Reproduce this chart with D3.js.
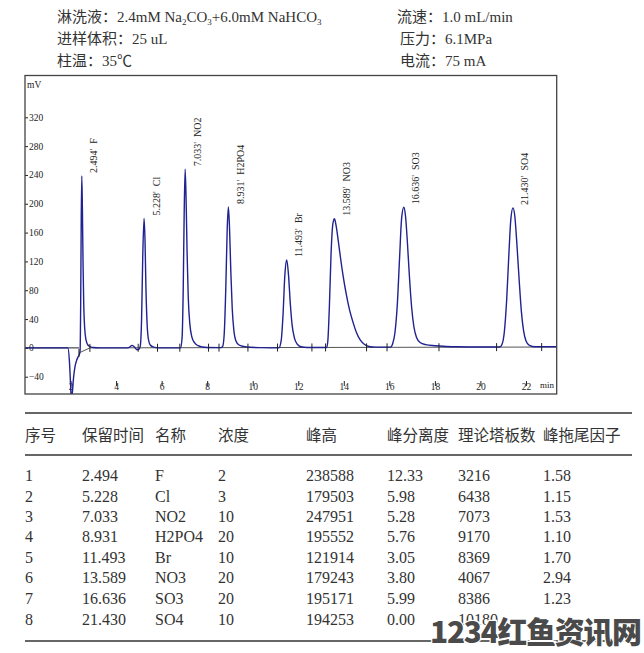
<!DOCTYPE html>
<html><head><meta charset="utf-8">
<script src="https://cdn.jsdelivr.net/npm/d3@7"></script>
<style>
html,body{margin:0;padding:0;background:#fff;}
svg{display:block;}
</style></head>
<body>
<svg id="c" width="644" height="653"></svg>
<script>
// ---------- data ----------
const seqNo = [1, 2, 3, 4, 5, 6, 7, 8];
const retentionTimes = ["2.494", "5.228", "7.033", "8.931", "11.493", "13.589", "16.636", "21.430"];
const peakNames = ["F", "Cl", "NO2", "H2PO4", "Br", "NO3", "SO3", "SO4"];
const concentrations = [2, 3, 10, 20, 10, 20, 20, 10];
const peakHeights = [238588, 179503, 247951, 195552, 121914, 179243, 195171, 194253];
const resolutions = ["12.33", "5.98", "5.28", "5.76", "3.05", "3.80", "5.99", "0.00"];
const plateNumbers = ["3216", "6438", "7073", "9170", "8369", "4067", "8386", "10180"];
const tailingFactors = ["1.58", "1.15", "1.53", "1.10", "1.70", "2.94", "1.23", ""];
const tableHeaders = ["序号", "保留时间", "名称", "浓度", "峰高", "峰分离度", "理论塔板数", "峰拖尾因子"];

const yTicks = [-40, 0, 40, 80, 120, 160, 200, 240, 280, 320];
const xTicks = [2, 4, 6, 8, 10, 12, 14, 16, 18, 20, 22];

// chromatogram trace (min, mV)
const traceTimes = [0, 1.88, 1.95, 2.0, 2.04, 2.08, 2.13, 2.19, 2.26, 2.33, 2.39, 2.42, 2.445, 2.47, 2.494, 2.52, 2.55, 2.58, 2.62, 2.68, 2.76, 2.88, 3.0, 3.3,
  4.5, 4.6, 4.7, 4.8, 4.92, 5.0, 5.06, 5.12, 5.17, 5.228, 5.27, 5.31, 5.36, 5.42, 5.5, 5.65, 5.85,
  6.83, 6.9, 6.95, 6.99, 7.033, 7.075, 7.12, 7.17, 7.24, 7.33, 7.45, 7.6, 7.8, 8.0,
  8.6, 8.68, 8.75, 8.82, 8.88, 8.931, 8.98, 9.04, 9.1, 9.17, 9.26, 9.4, 9.6, 9.9, 10.4,
  11.15, 11.25, 11.33, 11.41, 11.493, 11.57, 11.65, 11.73, 11.83, 11.96, 12.12, 12.4,
  13.25, 13.3, 13.37, 13.44, 13.52, 13.589, 13.66, 13.76, 13.86, 13.97, 14.1, 14.25, 14.41, 14.56, 14.72, 14.9, 15.1, 15.4,
  16.05, 16.15, 16.25, 16.35, 16.45, 16.54, 16.636, 16.71, 16.79, 16.88, 16.98, 17.08, 17.2, 17.35, 17.6, 18.0, 18.5, 19.0, 20.0,
  20.85, 20.95, 21.05, 21.15, 21.25, 21.34, 21.43, 21.51, 21.6, 21.7, 21.8, 21.9, 22.0, 22.15, 22.4, 23.35];
const traceSignal = [0, 0, -18, -50, -75, -62, -42, -27, -18, -12.5, -9, -4, 60, 180, 238.6, 195, 115, 60, 28, 11, 4, 1.5, 0.5, 0,
  0, 1, 3.5, 1.5, -2.5, -2, 2, 40, 125, 179.5, 150, 85, 35, 12, 4, 1, 0,
  0, 15, 85, 185, 248, 205, 130, 70, 33, 15, 7, 3, 1.2, 0.5,
  0.3, 2, 20, 85, 165, 195.6, 168, 105, 55, 25, 10, 4, 2, 0.8, 0.3,
  0, 10, 45, 100, 121.9, 102, 62, 32, 14, 5, 1.5, 0.5,
  0.5, 10, 60, 130, 172, 179.2, 170, 148, 124, 100, 76, 53, 35, 21, 11, 5, 2, 1,
  1, 6, 22, 60, 125, 180, 195.2, 183, 148, 100, 56, 29, 14, 7.5, 4.5, 3, 2, 1.5, 1.2,
  1.2, 5, 22, 65, 130, 180, 194.3, 183, 145, 95, 50, 23, 10, 3.5, 1.5, 1.5];

// integration baseline and its start/end marks
const baselineTimes = [2.37, 2.85, 23.35];
const baselineValues = [-7, 0, 1.2];
const markTimes = [2.37, 2.85, 4.97, 5.82, 6.8, 8.06, 8.52, 9.79, 11.09, 12.6, 13.2, 15.0, 15.9, 18.18, 20.71, 22.69];

// ---------- drawing ----------
const svg = d3.select("#c");
svg.append("rect").attr("width", 644).attr("height", 653).attr("fill", "#fff");

const cjk = "'Liberation Serif','Noto Sans CJK SC',serif";
const txtColor = "#333";

// header block
const hdr = svg.append("g").attr("font-family", cjk).attr("font-size", 15).attr("fill", txtColor);
const row1 = hdr.append("text").attr("x", 57).attr("y", 22);
const row1Parts = [["淋洗液：2.4mM Na", false], ["2", true], ["CO", false], ["3", true], ["+6.0mM NaHCO", false], ["3", true]];
row1Parts.forEach(([s, sub]) => {
  const t = row1.append("tspan").text(s);
  if (sub) t.attr("font-size", 9).attr("dy", 3);
  else t.attr("dy", row1.selectAll("tspan").size() > 1 ? -3 : 0);
});
hdr.append("text").attr("x", 57).attr("y", 44).text("进样体积：25 uL");
hdr.append("text").attr("x", 57).attr("y", 66).text("柱温：35℃");
hdr.append("text").attr("x", 397).attr("y", 22).text("流速：1.0 mL/min");
hdr.append("text").attr("x", 400).attr("y", 44).text("压力：6.1MPa");
hdr.append("text").attr("x", 400).attr("y", 66).text("电流：75 mA");

// chart
const L = 25, R = 556.7, T = 75.5, B = 394;
const x = d3.scaleLinear().domain([0, 23.35]).range([L, R]);
const y = d3.scaleLinear().domain([-64, 378]).range([B, T]);

svg.append("clipPath").attr("id", "clip").append("rect")
  .attr("x", L).attr("y", T).attr("width", R - L).attr("height", B - T);

const serif = "'Liberation Serif','Times New Roman',serif";

// y axis (ticks inside frame)
const yAxis = d3.axisRight(y).tickValues(yTicks).tickSize(3).tickPadding(1).tickFormat(d3.format("d"));
const gy = svg.append("g").attr("transform", `translate(${L},0)`).call(yAxis);
gy.select(".domain").remove();
gy.selectAll("line").attr("stroke", "#222");
gy.selectAll("text").attr("font-family", serif).attr("font-size", 9.5).attr("fill", "#222");
svg.append("text").attr("x", 27).attr("y", 88).attr("font-family", serif).attr("font-size", 9.5).attr("fill", "#222").text("mV");

// x axis (labels inside frame, above bottom edge)
const xAxis = d3.axisBottom(x).tickValues(xTicks).tickSize(5).tickPadding(0).tickFormat(d3.format("d"));
const gx = svg.append("g").attr("transform", `translate(0,${B - 13})`).call(xAxis);
gx.select(".domain").remove();
gx.selectAll("line").attr("stroke", "#222");
gx.selectAll("text").attr("font-family", serif).attr("font-size", 9.5).attr("fill", "#222")
  .attr("y", 2).attr("dy", "0.71em");
svg.append("text").attr("x", 540).attr("y", 388).attr("font-family", serif).attr("font-size", 9).attr("fill", "#222").text("min");

const plot = svg.append("g").attr("clip-path", "url(#clip)");

// integration baseline
const baseScale = d3.scaleLinear().domain(baselineTimes).range(baselineValues);
const baseLine = d3.line().x(d => x(d[0])).y(d => y(d[1]));
plot.append("path").datum([[0, 0], [2.37, 0]]).attr("d", baseLine).attr("stroke", "#222").attr("stroke-width", 1).attr("fill", "none");
plot.append("path").datum(baselineTimes.map((t, i) => [t, baselineValues[i]]))
  .attr("d", baseLine).attr("stroke", "#555").attr("stroke-width", 1).attr("fill", "none");

// trace
const traceLine = d3.line().x(d => x(d[0])).y(d => y(d[1])).curve(d3.curveMonotoneX);
plot.append("path").datum(traceTimes.map((t, i) => [t, traceSignal[i]]))
  .attr("d", traceLine).attr("fill", "none").attr("stroke", "#1f2290").attr("stroke-width", 1.4);

// integration marks
plot.selectAll("line.mark").data(markTimes).join("line").attr("class", "mark")
  .attr("x1", d => x(d)).attr("x2", d => x(d))
  .attr("y1", d => y(baseScale(d)) - 4).attr("y2", d => y(baseScale(d)) + 4)
  .attr("stroke", "#222").attr("stroke-width", 1);

// peak labels
svg.append("g").selectAll("text").data(retentionTimes).join("text")
  .attr("font-family", serif).attr("font-size", 10).attr("fill", "#222")
  .attr("dominant-baseline", "central")
  .attr("transform", (d, i) => `translate(${x(+d) + 12},${y(peakHeights[i] / 1000) - 3}) rotate(-90)`)
  .text((d, i) => `${d}'\u00a0\u00a0${peakNames[i]}`);

// frame
svg.append("rect").attr("x", L).attr("y", T).attr("width", R - L).attr("height", B - T)
  .attr("fill", "none").attr("stroke", "#444").attr("stroke-width", 1.3);

// ---------- table ----------
const colX = [25, 82, 155, 218, 306, 387, 458, 543];
const tg = svg.append("g").attr("fill", txtColor);
[413, 455, 641].forEach(yy => tg.append("line").attr("x1", 25).attr("x2", 632).attr("y1", yy).attr("y2", yy)
  .attr("stroke", "#333").attr("stroke-width", 1.5));
tg.selectAll("text.h").data(tableHeaders).join("text").attr("class", "h")
  .attr("x", (d, i) => colX[i]).attr("y", 441)
  .attr("font-family", "'Noto Sans CJK SC',sans-serif").attr("font-size", 15.5).text(d => d);
const rows = seqNo.map((s, i) => [String(s), retentionTimes[i], peakNames[i], String(concentrations[i]),
  String(peakHeights[i]), resolutions[i], plateNumbers[i], tailingFactors[i]]);
const rowY = [481, 502, 522, 542, 563, 583, 604, 625];
rows.forEach((r, ri) => {
  r.forEach((c, ci) => {
    tg.append("text").attr("x", colX[ci]).attr("y", rowY[ri])
      .attr("font-family", serif).attr("font-size", 16).text(c);
  });
});

// watermark present in the reference picture
svg.append("text").attr("x", 430).attr("y", 643)
  .attr("font-family", "'Noto Sans CJK SC',sans-serif").attr("font-weight", 900).attr("font-size", 30)
  .attr("fill", "#4a4a4a").attr("stroke", "#fff").attr("stroke-width", 2.5).attr("paint-order", "stroke")
  .attr("textLength", 212).text("1234红鱼资讯网");
</script>
</body></html>
